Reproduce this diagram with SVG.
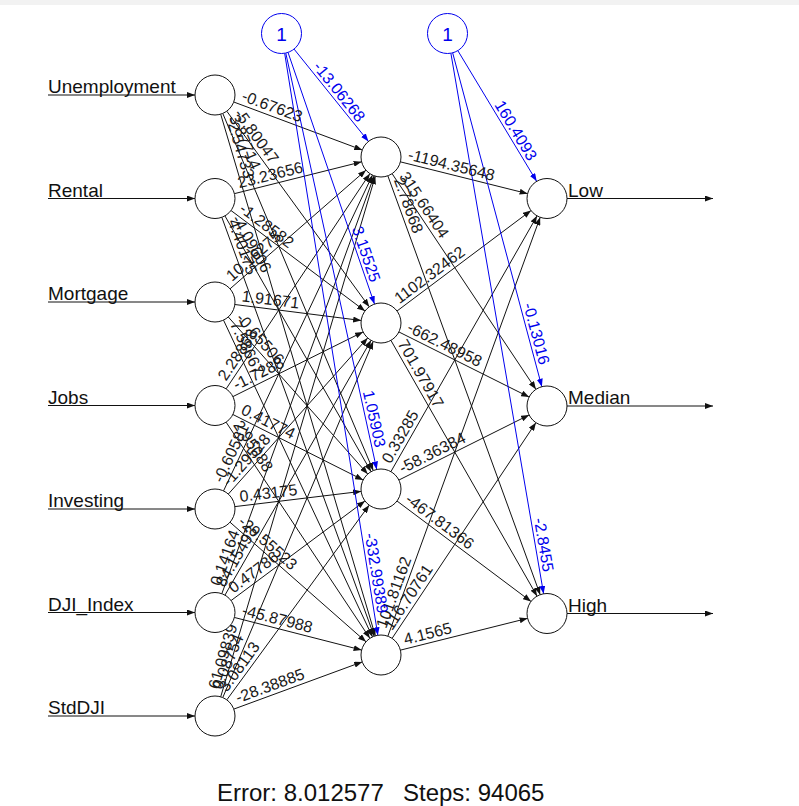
<svg xmlns="http://www.w3.org/2000/svg" width="799" height="806" viewBox="0 0 799 806">
<style>
.n{fill:#fff;stroke:#111;stroke-width:1}
.bn{fill:#fff;stroke:#0000ee;stroke-width:1}
.c{stroke:#111;stroke-width:1;fill:none;marker-end:url(#ak)}
.cb{stroke:#0000ee;stroke-width:1;fill:none;marker-end:url(#ab)}
.lab{font-family:"Liberation Sans",Arial,sans-serif;font-size:19px;fill:#111}
.w{font-family:"Liberation Sans",Arial,sans-serif;font-size:16px;fill:#1a1a1a}
.wb{font-family:"Liberation Sans",Arial,sans-serif;font-size:16px;fill:#0000ee;text-anchor:end}
.one{font-family:"Liberation Sans",Arial,sans-serif;font-size:19px;fill:#0000ee;text-anchor:middle}
.info{font-family:"Liberation Sans",Arial,sans-serif;font-size:24px;fill:#111}
</style>
<defs>
<marker id="ak" markerWidth="8" markerHeight="6" refX="8" refY="3" orient="auto" markerUnits="userSpaceOnUse"><path d="M0,0 L8,3 L0,6 z" fill="#111"/></marker>
<marker id="ab" markerWidth="8" markerHeight="6" refX="8" refY="3" orient="auto" markerUnits="userSpaceOnUse"><path d="M0,0 L8,3 L0,6 z" fill="#0000ee"/></marker>
</defs>
<rect width="799" height="806" fill="#fff"/>
<rect width="799" height="5" fill="#f2f2f2"/>
<g id="connectors">
<line class="c" x1="48" y1="95" x2="195" y2="95"/>
<line class="c" x1="48" y1="198.5" x2="195" y2="198.5"/>
<line class="c" x1="48" y1="302" x2="195" y2="302"/>
<line class="c" x1="48" y1="405.5" x2="195" y2="405.5"/>
<line class="c" x1="48" y1="509" x2="195" y2="509"/>
<line class="c" x1="48" y1="612.5" x2="195" y2="612.5"/>
<line class="c" x1="48" y1="716" x2="195" y2="716"/>
<line class="c" x1="233.74" y1="102" x2="362.26" y2="150"/>
<line class="c" x1="226.77" y1="111.17" x2="369.23" y2="306.83"/>
<line class="c" x1="222.77" y1="113.43" x2="373.23" y2="470.57"/>
<line class="c" x1="220.68" y1="114.18" x2="375.32" y2="635.82"/>
<line class="c" x1="234.4" y1="193.65" x2="361.6" y2="161.85"/>
<line class="c" x1="231" y1="210.5" x2="365" y2="311"/>
<line class="c" x1="224.92" y1="215.87" x2="371.08" y2="471.63"/>
<line class="c" x1="221.83" y1="217.3" x2="374.17" y2="636.2"/>
<line class="c" x1="230.06" y1="288.84" x2="365.94" y2="170.16"/>
<line class="c" x1="234.84" y1="304.51" x2="361.16" y2="320.49"/>
<line class="c" x1="228.28" y1="316.96" x2="367.72" y2="474.04"/>
<line class="c" x1="223.51" y1="320.1" x2="372.49" y2="636.9"/>
<line class="c" x1="226.11" y1="388.87" x2="369.89" y2="173.63"/>
<line class="c" x1="232.91" y1="396.6" x2="363.09" y2="331.9"/>
<line class="c" x1="232.87" y1="414.49" x2="363.13" y2="480.01"/>
<line class="c" x1="226.08" y1="422.15" x2="369.92" y2="638.35"/>
<line class="c" x1="223.53" y1="490.91" x2="372.47" y2="175.09"/>
<line class="c" x1="228.32" y1="494.08" x2="367.68" y2="337.92"/>
<line class="c" x1="234.86" y1="506.61" x2="361.14" y2="491.39"/>
<line class="c" x1="230.02" y1="522.21" x2="365.98" y2="641.79"/>
<line class="c" x1="221.83" y1="593.7" x2="374.17" y2="175.8"/>
<line class="c" x1="224.95" y1="595.15" x2="371.05" y2="340.35"/>
<line class="c" x1="231.05" y1="600.57" x2="364.95" y2="500.93"/>
<line class="c" x1="234.38" y1="617.46" x2="361.62" y2="650.04"/>
<line class="c" x1="220.69" y1="696.83" x2="375.31" y2="176.17"/>
<line class="c" x1="222.78" y1="697.58" x2="373.22" y2="341.42"/>
<line class="c" x1="226.81" y1="699.86" x2="369.19" y2="505.14"/>
<line class="c" x1="233.77" y1="709.1" x2="362.23" y2="661.9"/>
<line class="c" x1="400.4" y1="161.85" x2="527.6" y2="193.65"/>
<line class="c" x1="392.09" y1="173.64" x2="535.91" y2="389.36"/>
<line class="c" x1="387.83" y1="175.8" x2="540.17" y2="594.7"/>
<line class="c" x1="397" y1="311" x2="531" y2="210.5"/>
<line class="c" x1="398.89" y1="331.94" x2="529.11" y2="397.06"/>
<line class="c" x1="390.92" y1="340.37" x2="537.08" y2="596.13"/>
<line class="c" x1="390.92" y1="471.63" x2="537.08" y2="215.87"/>
<line class="c" x1="398.89" y1="480.06" x2="529.11" y2="414.94"/>
<line class="c" x1="397" y1="501" x2="531" y2="601.5"/>
<line class="c" x1="387.83" y1="636.2" x2="540.17" y2="217.3"/>
<line class="c" x1="392.09" y1="638.36" x2="535.91" y2="422.64"/>
<line class="c" x1="400.4" y1="650.15" x2="527.6" y2="618.35"/>
<line class="cb" x1="294.05" y1="49.08" x2="368.45" y2="141.42"/>
<line class="cb" x1="288" y1="52.41" x2="374.5" y2="304.09"/>
<line class="cb" x1="285.77" y1="53.04" x2="376.73" y2="469.46"/>
<line class="cb" x1="284.66" y1="53.25" x2="377.84" y2="635.25"/>
<line class="cb" x1="457.83" y1="50.63" x2="536.67" y2="181.37"/>
<line class="cb" x1="452.66" y1="52.82" x2="541.84" y2="386.68"/>
<line class="cb" x1="450.88" y1="53.21" x2="543.62" y2="593.79"/>
<line class="c" x1="567" y1="198.5" x2="713" y2="198.5"/>
<line class="c" x1="567" y1="406" x2="713" y2="406"/>
<line class="c" x1="567" y1="613.5" x2="713" y2="613.5"/>
</g>
<g id="weights">
<text class="w" transform="translate(215 95) rotate(20.48)" x="26" y="-4">-0.67623</text>
<text class="w" transform="translate(215 95) rotate(53.94)" x="26" y="-4">-5.80047</text>
<text class="w" transform="translate(215 95) rotate(67.15)" x="26" y="-4">3.87714</text>
<text class="w" transform="translate(215 95) rotate(73.49)" x="26" y="-4">-2.54733</text>
<text class="w" transform="translate(215 198.5) rotate(-14.04)" x="26" y="-4">23.23656</text>
<text class="w" transform="translate(215 198.5) rotate(36.87)" x="26" y="-4">-1.28582</text>
<text class="w" transform="translate(215 198.5) rotate(60.26)" x="26" y="-4">-4.09606</text>
<text class="w" transform="translate(215 198.5) rotate(70.02)" x="26" y="-4">4.40175</text>
<text class="w" transform="translate(215 302) rotate(-41.14)" x="26" y="-4">10.16275</text>
<text class="w" transform="translate(215 302) rotate(7.21)" x="26" y="-4">1.91671</text>
<text class="w" transform="translate(215 302) rotate(48.4)" x="26" y="-4">-0.65506</text>
<text class="w" transform="translate(215 302) rotate(64.81)" x="26" y="-4">7.58667</text>
<text class="w" transform="translate(215 405.5) rotate(-56.26)" x="26" y="-4">2.28868</text>
<text class="w" transform="translate(215 405.5) rotate(-26.43)" x="26" y="-4">-1.7288</text>
<text class="w" transform="translate(215 405.5) rotate(26.7)" x="26" y="-4">0.41774</text>
<text class="w" transform="translate(215 405.5) rotate(56.36)" x="26" y="-4">2.95088</text>
<text class="w" transform="translate(215 509) rotate(-64.75)" x="26" y="-4">-0.60581</text>
<text class="w" transform="translate(215 509) rotate(-48.25)" x="26" y="-4">-1.29528</text>
<text class="w" transform="translate(215 509) rotate(-6.87)" x="26" y="-4">0.43175</text>
<text class="w" transform="translate(215 509) rotate(41.33)" x="26" y="-4">-29.55523</text>
<text class="w" transform="translate(215 612.5) rotate(-70.02)" x="26" y="-4">0.14164</text>
<text class="w" transform="translate(215 612.5) rotate(-60.17)" x="26" y="-4">84.15493</text>
<text class="w" transform="translate(215 612.5) rotate(-36.65)" x="26" y="-4">0.47786</text>
<text class="w" transform="translate(215 612.5) rotate(14.36)" x="26" y="-4">-45.87988</text>
<text class="w" transform="translate(215 716) rotate(-73.46)" x="26" y="-4">61.09839</text>
<text class="w" transform="translate(215 716) rotate(-67.1)" x="26" y="-4">0.08754</text>
<text class="w" transform="translate(215 716) rotate(-53.82)" x="26" y="-4">3.08113</text>
<text class="w" transform="translate(215 716) rotate(-20.18)" x="26" y="-4">-28.38885</text>
<text class="w" transform="translate(381 157) rotate(14.04)" x="26" y="-4">-1194.35648</text>
<text class="w" transform="translate(381 157) rotate(56.31)" x="26" y="-4">315.66404</text>
<text class="w" transform="translate(381 157) rotate(70.02)" x="26" y="-4">2.78668</text>
<text class="w" transform="translate(381 323) rotate(-36.87)" x="26" y="-4">1102.32462</text>
<text class="w" transform="translate(381 323) rotate(26.57)" x="26" y="-4">-662.48958</text>
<text class="w" transform="translate(381 323) rotate(60.26)" x="26" y="-4">701.97917</text>
<text class="w" transform="translate(381 489) rotate(-60.26)" x="26" y="-4">0.33285</text>
<text class="w" transform="translate(381 489) rotate(-26.57)" x="26" y="-4">-58.36384</text>
<text class="w" transform="translate(381 489) rotate(36.87)" x="26" y="-4">-467.81366</text>
<text class="w" transform="translate(381 655) rotate(-70.02)" x="26" y="-4">101.81162</text>
<text class="w" transform="translate(381 655) rotate(-56.31)" x="26" y="-4">116.70761</text>
<text class="w" transform="translate(381 655) rotate(-14.04)" x="26" y="-4">4.1565</text>
<text class="wb" transform="translate(381 157) rotate(51.14)" x="-41" y="-3">-13.06268</text>
<text class="wb" transform="translate(381 323) rotate(71.03)" x="-41" y="-3">3.15525</text>
<text class="wb" transform="translate(381 489) rotate(77.68)" x="-41" y="-3">1.05903</text>
<text class="wb" transform="translate(381 655) rotate(80.9)" x="-41" y="-3">-332.99389</text>
<text class="wb" transform="translate(547 198.5) rotate(58.91)" x="-41" y="-3">160.4093</text>
<text class="wb" transform="translate(547 406) rotate(75.05)" x="-41" y="-3">-0.13016</text>
<text class="wb" transform="translate(547 613.5) rotate(80.27)" x="-41" y="-3">-2.8455</text>
</g>
<g id="in_unemployment"><circle class="n" cx="215" cy="95" r="20"/><text class="lab" x="48" y="93">Unemployment</text></g>
<g id="in_rental"><circle class="n" cx="215" cy="198.5" r="20"/><text class="lab" x="48" y="196.5">Rental</text></g>
<g id="in_mortgage"><circle class="n" cx="215" cy="302" r="20"/><text class="lab" x="48" y="300">Mortgage</text></g>
<g id="in_jobs"><circle class="n" cx="215" cy="405.5" r="20"/><text class="lab" x="48" y="403.5">Jobs</text></g>
<g id="in_investing"><circle class="n" cx="215" cy="509" r="20"/><text class="lab" x="48" y="507">Investing</text></g>
<g id="in_dji_index"><circle class="n" cx="215" cy="612.5" r="20"/><text class="lab" x="48" y="610.5">DJI_Index</text></g>
<g id="in_stddji"><circle class="n" cx="215" cy="716" r="20"/><text class="lab" x="48" y="714">StdDJI</text></g>
<g id="hidden_1"><circle class="n" cx="381" cy="157" r="20"/></g>
<g id="hidden_2"><circle class="n" cx="381" cy="323" r="20"/></g>
<g id="hidden_3"><circle class="n" cx="381" cy="489" r="20"/></g>
<g id="hidden_4"><circle class="n" cx="381" cy="655" r="20"/></g>
<g id="bias_1"><circle class="bn" cx="281.5" cy="33.5" r="20"/><text class="one" x="281.5" y="40.5">1</text></g>
<g id="bias_2"><circle class="bn" cx="447.5" cy="33.5" r="20"/><text class="one" x="447.5" y="40.5">1</text></g>
<g id="out_low"><circle class="n" cx="547" cy="198.5" r="20"/><text class="lab" x="568" y="196.5">Low</text></g>
<g id="out_median"><circle class="n" cx="547" cy="406" r="20"/><text class="lab" x="568" y="404">Median</text></g>
<g id="out_high"><circle class="n" cx="547" cy="613.5" r="20"/><text class="lab" x="568" y="611.5">High</text></g>
<g id="info"><text class="info" x="217" y="801">Error: 8.012577</text><text class="info" x="403" y="801">Steps: 94065</text></g>
</svg>
